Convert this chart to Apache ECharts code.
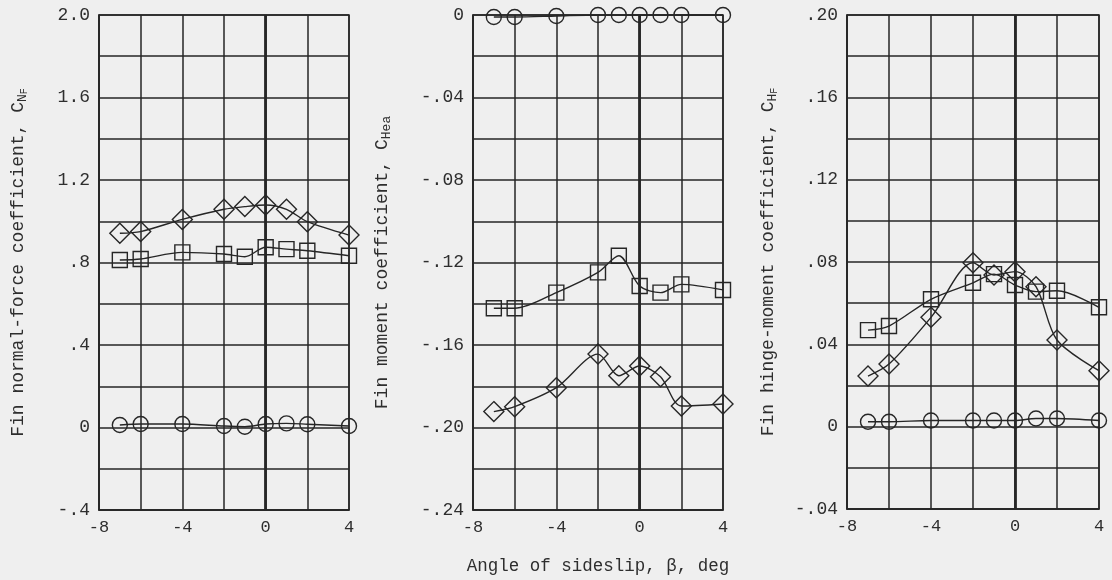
<!DOCTYPE html>
<html>
<head>
<meta charset="utf-8">
<script src="https://cdn.jsdelivr.net/npm/echarts@6/dist/echarts.min.js"></script>
<style>
html,body{margin:0;padding:0;background:#efefef;}
#c{width:1112px;height:580px;}
</style>
</head>
<body>
<div id="c"></div>
<script>
// ---- data ----
var beta = [-7, -6, -4, -2, -1, 0, 1, 2, 4];

var cnCircle  = [0.012, 0.017, 0.017, 0.007, 0.004, 0.017, 0.020, 0.016, 0.007];
var cnSquare  = [0.812, 0.817, 0.849, 0.841, 0.828, 0.874, 0.865, 0.857, 0.833];
var cnDiamond = [0.942, 0.950, 1.009, 1.058, 1.071, 1.079, 1.058, 0.998, 0.933];

var chCircle  = [-0.001, -0.001, -0.0005, 0, 0, 0, 0, 0, 0];
var chSquare  = [-0.1422, -0.1422, -0.1346, -0.1248, -0.1167, -0.1314, -0.1346, -0.1306, -0.1333];
var chDiamond = [-0.1923, -0.1899, -0.1807, -0.1644, -0.1749, -0.1702, -0.1754, -0.1896, -0.1886];

var hfCircle  = [0.0024, 0.0024, 0.003, 0.003, 0.003, 0.003, 0.004, 0.004, 0.003];
var hfSquare  = [0.0469, 0.0489, 0.0619, 0.0699, 0.0741, 0.0688, 0.0656, 0.0660, 0.0580];
var hfDiamond = [0.0246, 0.0304, 0.0531, 0.0796, 0.0737, 0.0753, 0.0680, 0.0421, 0.0272];

var xTickLabels   = ['-8', '-4', '0', '4'];                       // every 4 deg from -8
var cnTickLabels  = ['-.4', '0', '.4', '.8', '1.2', '1.6', '2.0']; // every 0.4 from -0.4
var chTickLabels  = ['-.24', '-.20', '-.16', '-.12', '-.08', '-.04', '0']; // every 0.04 from -0.24
var hfTickLabels  = ['-.04', '0', '.04', '.08', '.12', '.16', '.20'];      // every 0.04 from -0.04

// ---- styling ----
var FONT = 'Liberation Mono';
var INK = '#262626';
var TXT = '#2e2e2e';

function pairs(ys) { return beta.map(function (b, i) { return [b, ys[i]]; }); }

function labelFormatter(min, step, labels) {
  return function (v) {
    var k = (v - min) / step;
    var r = Math.round(k);
    if (Math.abs(k - r) > 1e-6) return '';
    return labels[r] !== undefined ? labels[r] : '';
  };
}

var grids = [
  {left: 99,  top: 15, width: 250, height: 495},
  {left: 473, top: 15, width: 250, height: 495},
  {left: 847, top: 15, width: 252, height: 494}
];

var richName = {
  s: {fontSize: 13, fontFamily: FONT, color: TXT, lineHeight: 12, verticalAlign: 'bottom'},
  t: {fontSize: 10, fontFamily: FONT, color: TXT, lineHeight: 6,  verticalAlign: 'bottom'}
};

function xAxis(i, withName) {
  var a = {
    gridIndex: i, type: 'value', min: -8, max: 4, interval: 2,
    axisLine: {show: true, onZero: false, lineStyle: {color: INK, width: 1.5}},
    axisTick: {show: false},
    splitLine: {show: true, lineStyle: {color: INK, width: 1.5}},
    axisLabel: {
      show: true, margin: 9, color: TXT, fontFamily: FONT, fontSize: 17,
      formatter: labelFormatter(-8, 4, xTickLabels)
    }
  };
  if (withName) {
    a.name = 'Angle of sideslip, \u03b2, deg';
    a.nameLocation = 'middle';
    a.nameGap = 47;
    a.nameTextStyle = {color: TXT, fontFamily: FONT, fontSize: 17.5};
  }
  return a;
}

function yAxis(i, min, max, step, labels, name, gap) {
  return {
    gridIndex: i, type: 'value', min: min, max: max, interval: step / 2,
    axisLine: {show: true, onZero: false, lineStyle: {color: INK, width: 1.5}},
    axisTick: {show: false},
    splitLine: {show: true, lineStyle: {color: INK, width: 1.5}},
    axisLabel: {
      show: true, margin: 9, color: TXT, fontFamily: FONT, fontSize: 18,
      formatter: labelFormatter(min, step, labels)
    },
    name: name, nameLocation: 'middle', nameGap: gap, nameRotate: 90,
    nameTextStyle: {color: TXT, fontFamily: FONT, fontSize: 18, lineHeight: 22, rich: richName}
  };
}

function seriesFor(i, data, symbol, size, withZero) {
  var s = {
    type: 'line', xAxisIndex: i, yAxisIndex: i, data: pairs(data),
    symbol: symbol, symbolSize: size, showAllSymbol: true,
    smooth: 0.3,
    lineStyle: {color: INK, width: 1.4},
    itemStyle: {color: 'rgba(0,0,0,0)', borderColor: INK, borderWidth: 1.4},
    emphasis: {disabled: true},
    z: 3
  };
  if (withZero) {
    s.markLine = {
      silent: true, symbol: 'none', label: {show: false},
      lineStyle: {color: INK, width: 2.8, type: 'solid'},
      data: [{xAxis: 0}]
    };
  }
  return s;
}

var chart = echarts.init(document.getElementById('c'), null, {renderer: 'canvas'});
chart.setOption({
  backgroundColor: '#efefef',
  animation: false,
  grid: grids.map(function (g) {
    return Object.assign({show: true, borderColor: INK, borderWidth: 1.5, backgroundColor: 'transparent'}, g);
  }),
  xAxis: [xAxis(0, false), xAxis(1, true), xAxis(2, false)],
  yAxis: [
    yAxis(0, -0.4, 2.0, 0.4, cnTickLabels, 'Fin normal-force coefficient, C{s|N}{t|F}', 70),
    yAxis(1, -0.24, 0, 0.04, chTickLabels, 'Fin moment coefficient, C{s|Hea}', 80),
    yAxis(2, -0.04, 0.20, 0.04, hfTickLabels, 'Fin hinge-moment coefficient, C{s|H}{t|F}', 68)
  ],
  series: [
    seriesFor(0, cnCircle, 'circle', 15, true),
    seriesFor(0, cnSquare, 'rect', 15, false),
    seriesFor(0, cnDiamond, 'diamond', 20, false),
    seriesFor(1, chCircle, 'circle', 15, true),
    seriesFor(1, chSquare, 'rect', 15, false),
    seriesFor(1, chDiamond, 'diamond', 20, false),
    seriesFor(2, hfCircle, 'circle', 15, true),
    seriesFor(2, hfSquare, 'rect', 15, false),
    seriesFor(2, hfDiamond, 'diamond', 20, false)
  ]
});
</script>
</body>
</html>
